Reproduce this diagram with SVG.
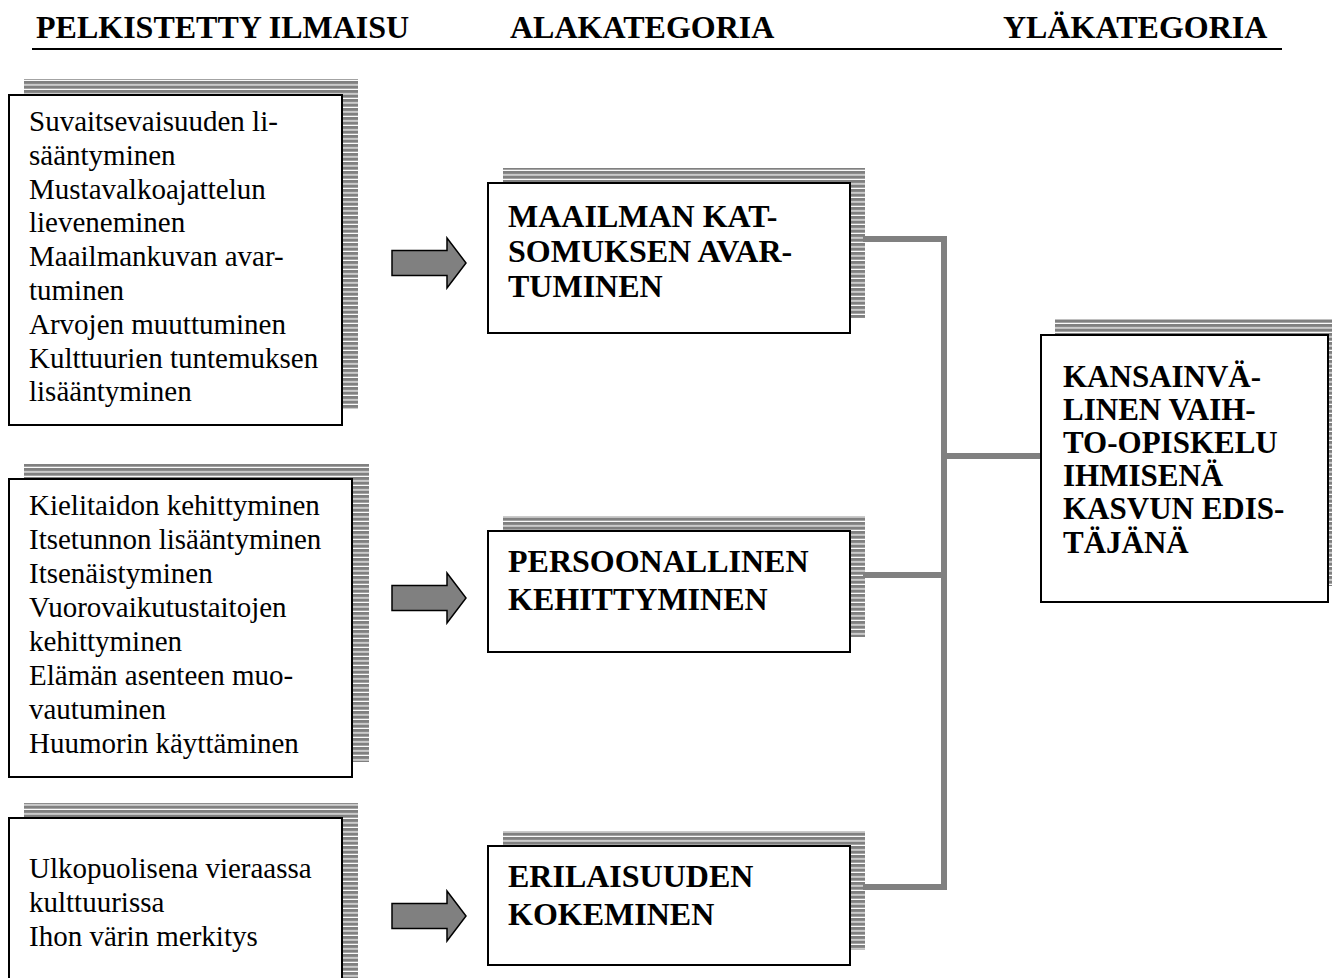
<svg xmlns="http://www.w3.org/2000/svg" width="1332" height="978" viewBox="0 0 1332 978">
<defs>
<pattern id="stripes" patternUnits="userSpaceOnUse" width="8" height="4.5">
<rect x="0" y="0" width="8" height="3.3" fill="#808080"/>
</pattern>
<polygon id="arrow" points="0,-12.5 55,-12.5 55,-25 74,0 55,25 55,12.5 0,12.5" fill="#808080" stroke="#000" stroke-width="1.5" stroke-linejoin="miter"/>
</defs>
<style>
.shadow{fill:url(#stripes);}
.box{fill:#fff;stroke:#000;stroke-width:2;}
.reg{font-family:"Liberation Serif","Times New Roman",serif;font-size:29px;fill:#000;}
.bold{font-family:"Liberation Serif","Times New Roman",serif;font-size:32px;font-weight:bold;fill:#000;}
.rbold{font-family:"Liberation Serif","Times New Roman",serif;font-size:31px;font-weight:bold;fill:#000;}
.hdr{font-family:"Liberation Serif","Times New Roman",serif;font-size:32px;font-weight:bold;fill:#000;}
.conn{stroke:#808080;stroke-width:6;fill:none;stroke-linecap:square;}
</style>
<rect width="1332" height="978" fill="#fff"/>

<g id="header">
<text class="hdr" x="36" y="38">PELKISTETTY ILMAISU</text>
<text class="hdr" x="510" y="38">ALAKATEGORIA</text>
<text class="hdr" x="1003" y="38">YLÄKATEGORIA</text>
<line x1="32" y1="49" x2="1282" y2="49" stroke="#000" stroke-width="2"/>
</g>

<g id="connectors">
<line class="conn" x1="866" y1="239" x2="944" y2="239"/>
<line class="conn" x1="944" y1="239" x2="944" y2="887"/>
<line class="conn" x1="866" y1="575" x2="944" y2="575"/>
<line class="conn" x1="866" y1="887" x2="944" y2="887"/>
<line class="conn" x1="944" y1="456" x2="1040" y2="456"/>
<use href="#arrow" x="392" y="263"/>
<use href="#arrow" x="392" y="598"/>
<use href="#arrow" x="392" y="916"/>
</g>

<g id="left1">
<rect class="shadow" x="24" y="79" width="334" height="330"/>
<rect class="box" x="9" y="95" width="333" height="330"/>
<text class="reg">
<tspan x="29" y="131">Suvaitsevaisuuden li-</tspan>
<tspan x="29" y="164.8">sääntyminen</tspan>
<tspan x="29" y="198.6">Mustavalkoajattelun</tspan>
<tspan x="29" y="232.4">lieveneminen</tspan>
<tspan x="29" y="266.2">Maailmankuvan avar-</tspan>
<tspan x="29" y="300">tuminen</tspan>
<tspan x="29" y="333.8">Arvojen muuttuminen</tspan>
<tspan x="29" y="367.6">Kulttuurien tuntemuksen</tspan>
<tspan x="29" y="401.4">lisääntyminen</tspan>
</text>
</g>

<g id="left2">
<rect class="shadow" x="24" y="464" width="345" height="298"/>
<rect class="box" x="9" y="479" width="343" height="298"/>
<text class="reg">
<tspan x="29" y="515">Kielitaidon kehittyminen</tspan>
<tspan x="29" y="549">Itsetunnon lisääntyminen</tspan>
<tspan x="29" y="583">Itsenäistyminen</tspan>
<tspan x="29" y="617">Vuorovaikutustaitojen</tspan>
<tspan x="29" y="651">kehittyminen</tspan>
<tspan x="29" y="685">Elämän asenteen muo-</tspan>
<tspan x="29" y="719">vautuminen</tspan>
<tspan x="29" y="753">Huumorin käyttäminen</tspan>
</text>
</g>

<g id="left3">
<rect class="shadow" x="24" y="803" width="334" height="190"/>
<rect class="box" x="9" y="818" width="333" height="180"/>
<text class="reg">
<tspan x="29" y="878">Ulkopuolisena vieraassa</tspan>
<tspan x="29" y="912">kulttuurissa</tspan>
<tspan x="29" y="946">Ihon värin merkitys</tspan>
</text>
</g>

<g id="mid1">
<rect class="shadow" x="503" y="168" width="362" height="150"/>
<rect class="box" x="488" y="183" width="362" height="150"/>
<text class="bold">
<tspan x="508" y="227">MAAILMAN KAT-</tspan>
<tspan x="508" y="262">SOMUKSEN AVAR-</tspan>
<tspan x="508" y="297">TUMINEN</tspan>
</text>
</g>

<g id="mid2">
<rect class="shadow" x="503" y="516" width="362" height="121"/>
<rect class="box" x="488" y="531" width="362" height="121"/>
<text class="bold">
<tspan x="508" y="572">PERSOONALLINEN</tspan>
<tspan x="508" y="610">KEHITTYMINEN</tspan>
</text>
</g>

<g id="mid3">
<rect class="shadow" x="503" y="831" width="362" height="119"/>
<rect class="box" x="488" y="846" width="362" height="119"/>
<text class="bold">
<tspan x="508" y="887">ERILAISUUDEN</tspan>
<tspan x="508" y="925">KOKEMINEN</tspan>
</text>
</g>

<g id="right">
<rect class="shadow" x="1055" y="319" width="290" height="267"/>
<rect class="box" x="1041" y="335" width="287" height="267"/>
<text class="rbold">
<tspan x="1063" y="387">KANSAINVÄ-</tspan>
<tspan x="1063" y="420">LINEN VAIH-</tspan>
<tspan x="1063" y="453">TO-OPISKELU</tspan>
<tspan x="1063" y="486">IHMISENÄ</tspan>
<tspan x="1063" y="519">KASVUN EDIS-</tspan>
<tspan x="1063" y="553">TÄJÄNÄ</tspan>
</text>
</g>
</svg>
